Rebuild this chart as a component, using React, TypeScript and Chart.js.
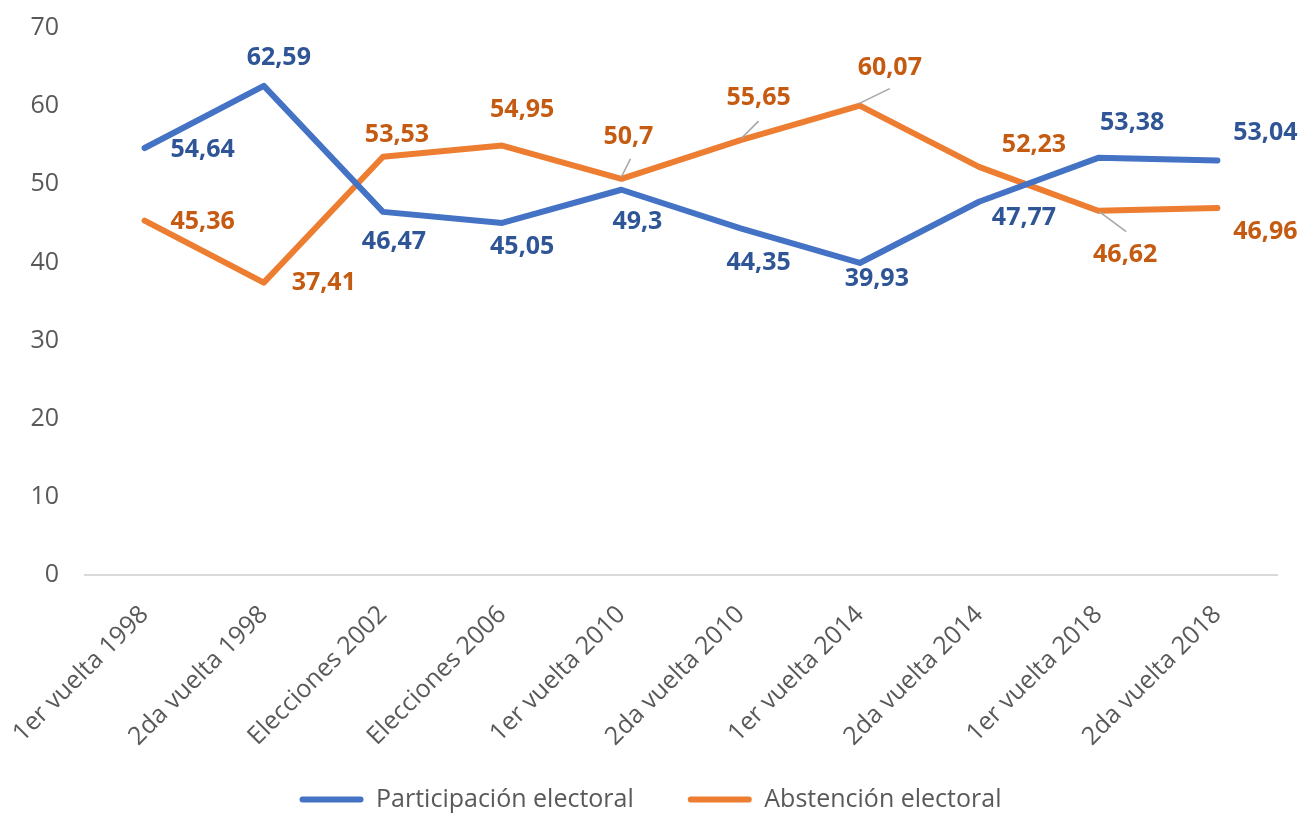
import React, { useEffect, useRef } from 'react';
import { Chart, registerables } from 'chart.js';

Chart.register(...registerables);

// ---------- data ----------
const categories = [
  '1er vuelta 1998',
  '2da vuelta 1998',
  'Elecciones 2002',
  'Elecciones 2006',
  '1er vuelta 2010',
  '2da vuelta 2010',
  '1er vuelta 2014',
  '2da vuelta 2014',
  '1er vuelta 2018',
  '2da vuelta 2018',
];
const participacion = [54.64, 62.59, 46.47, 45.05, 49.3, 44.35, 39.93, 47.77, 53.38, 53.04];
const abstencion = [45.36, 37.41, 53.53, 54.95, 50.7, 55.65, 60.07, 52.23, 46.62, 46.96];
const seriesNames = ['Participación electoral', 'Abstención electoral'];
const yTickValues = [0, 10, 20, 30, 40, 50, 60, 70];

// ---------- styling ----------
const FONT = "'Open Sans', 'Noto Sans', sans-serif";
const LINE_COLORS = ['#4472C4', '#ED7D31'];
const LABEL_COLORS = ['#2F5597', '#C55A11'];
const TEXT_GRAY = '#595959';

// label offsets from each point (dx, dy), in px
const participacionLabelOffsets: [number, number][] = [
  [58, 2], [15, -28], [11, 30], [20, 24], [16, 32], [18, 34], [17, 16], [45, 16], [34, -35], [48, -28],
];
const abstencionLabelOffsets: [number, number][] = [
  [58, 1], [60, 0], [14, -22], [20, -36], [7, -42], [18, -42], [30, -38], [55, -22], [27, 44], [48, 24],
];
// leader lines: [x1, y1, x2, y2] relative to point
const participacionLeaders: (number[] | null)[] = [null, null, null, null, null, null, null, null, null, null];
const abstencionLeaders: (number[] | null)[] = [
  null, null, null, null, [0, -2, 9, -20], [1, -2, 18, -19], [-1, -2, 30, -17], null, [1, 1, 28, 21], null,
];

const labelConfigs = [
  { offsets: participacionLabelOffsets, leaders: participacionLeaders, color: LABEL_COLORS[0] },
  { offsets: abstencionLabelOffsets, leaders: abstencionLeaders, color: LABEL_COLORS[1] },
];

const LEGEND_SHIFT_X = 12;

const formatValue = (v: number) => String(v).replace('.', ',');

const dataLabelPlugin = {
  id: 'excelDataLabels',
  afterLayout(chart: any) {
    if (chart.legend) {
      chart.legend.left += LEGEND_SHIFT_X;
      chart.legend.right += LEGEND_SHIFT_X;
    }
    // let rotated category labels extend below the axis box without clipping
    if (chart.scales.x) {
      chart.scales.x.bottom = chart.height;
    }
  },
  afterDatasetsDraw(chart: any) {
    const ctx = chart.ctx;
    chart.data.datasets.forEach((ds: any, di: number) => {
      const meta = chart.getDatasetMeta(di);
      const cfg = labelConfigs[di];
      meta.data.forEach((pt: any, i: number) => {
        const v = ds.data[i];
        const [dx, dy] = cfg.offsets[i];
        const leader = cfg.leaders[i];
        ctx.save();
        if (leader) {
          ctx.strokeStyle = '#A6A6A6';
          ctx.lineWidth = 1.5;
          ctx.beginPath();
          ctx.moveTo(pt.x + leader[0], pt.y + leader[1]);
          ctx.lineTo(pt.x + leader[2], pt.y + leader[3]);
          ctx.stroke();
        }
        ctx.font = `bold 25px ${FONT}`;
        ctx.fillStyle = cfg.color;
        ctx.textAlign = 'center';
        ctx.textBaseline = 'middle';
        ctx.fillText(formatValue(v), pt.x + dx, pt.y + dy);
        ctx.restore();
      });
    });
  },
};

export default function App() {
  const canvasRef = useRef<HTMLCanvasElement | null>(null);

  useEffect(() => {
    document.body.style.margin = '0';
    document.body.style.overflow = 'hidden';
    const canvas = canvasRef.current;
    if (!canvas) return;
    const chart = new Chart(canvas, {
      type: 'line',
      data: {
        labels: categories,
        datasets: [
          {
            label: seriesNames[0],
            data: participacion,
            borderColor: LINE_COLORS[0],
            backgroundColor: LINE_COLORS[0],
            borderWidth: 6,
            pointRadius: 0,
            pointHoverRadius: 0,
            tension: 0,
            borderJoinStyle: 'round',
            borderCapStyle: 'round',
          },
          {
            label: seriesNames[1],
            data: abstencion,
            borderColor: LINE_COLORS[1],
            backgroundColor: LINE_COLORS[1],
            borderWidth: 6,
            pointRadius: 0,
            pointHoverRadius: 0,
            tension: 0,
            borderJoinStyle: 'round',
            borderCapStyle: 'round',
          },
        ],
      },
      options: {
        responsive: false,
        animation: false,
        events: [],
        layout: { padding: { top: 28, right: 25, bottom: -8, left: 0 } },
        scales: {
          x: {
            type: 'category',
            offset: true,
            grid: { display: false, drawTicks: true, tickLength: 13 },
            border: { display: true, color: '#D9D9D9', width: 2 },
            ticks: {
              autoSkip: false,
              minRotation: 45,
              maxRotation: 45,
              padding: 12,
              color: TEXT_GRAY,
              font: { family: FONT, size: 25 },
            },
            afterFit: (scale: any) => {
              scale.height = 158;
            },
          },
          y: {
            min: 0,
            max: 70,
            grid: { display: false, drawTicks: true, tickLength: 23 },
            border: { display: false },
            afterBuildTicks: (scale: any) => {
              scale.ticks = yTickValues.map((v) => ({ value: v }));
            },
            ticks: {
              padding: 3,
              color: TEXT_GRAY,
              font: { family: FONT, size: 25 },
            },
            afterFit: (scale: any) => {
              scale.width = 85;
            },
          },
        },
        plugins: {
          tooltip: { enabled: false },
          legend: {
            display: true,
            position: 'bottom',
            labels: {
              font: { family: FONT, size: 25 },
              color: TEXT_GRAY,
              boxWidth: 64,
              boxHeight: 6,
              padding: 54,
              useBorderRadius: true,
              borderRadius: 3,
              generateLabels: (c: any) =>
                c.data.datasets.map((ds: any, i: number) => ({
                  text: ds.label,
                  fillStyle: ds.borderColor,
                  strokeStyle: ds.borderColor,
                  lineWidth: 0,
                  hidden: false,
                  datasetIndex: i,
                  borderRadius: 3,
                  fontColor: TEXT_GRAY,
                })),
            },
          },
        },
      },
      plugins: [dataLabelPlugin],
    } as any);
    return () => chart.destroy();
  }, []);

  return (
    <div style={{ width: 1302, height: 814, position: 'relative', background: '#fff' }}>
      <canvas ref={canvasRef} width={1302} height={814} style={{ display: 'block' }} />
    </div>
  );
}
